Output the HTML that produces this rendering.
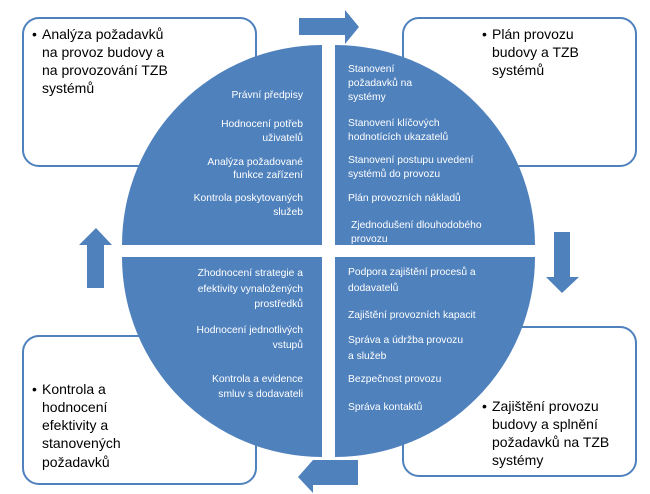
<!DOCTYPE html>
<html><head><meta charset="utf-8"><style>
html,body{margin:0;padding:0;background:#fff;}
svg{display:block;}
.q{font-family:"Liberation Sans",sans-serif;font-size:10.3px;fill:#fff;}
.b{font-family:"Liberation Sans",sans-serif;font-size:14px;fill:#000;}
</style></head><body>
<svg width="650" height="494" viewBox="0 0 650 494">
<g fill="#fff" stroke="#4f81bd" stroke-width="2">
<rect x="23" y="18" width="233" height="148" rx="16"/>
<rect x="403" y="18" width="233" height="148" rx="16"/>
<rect x="23" y="336" width="233" height="148" rx="16"/>
<rect x="403" y="327" width="233" height="149" rx="16"/>
</g>
<g fill="#4f81bd">
<path d="M322,245 L122,245 A200,200 0 0 1 322,45 Z"/>
<path d="M335,245 L335,45 A200,200 0 0 1 535,245 Z"/>
<path d="M322,257 L122,257 A200,200 0 0 0 322,457 Z"/>
<path d="M335,257 L535,257 A200,200 0 0 1 335,457 Z"/>
<polygon points="299,18 345,18 345,10 359,27 345,44 345,35 299,35"/>
<polygon points="554,232 570,232 570,277 579,277 562,293 546,277 554,277"/>
<polygon points="87,288 104,288 104,245 112,245 96,228 79,245 87,245"/>
<polygon points="358,460 313,460 313,460 298,477 313,493 313,485 358,485"/>
</g>
<g class="q" text-anchor="end">
<text x="303" y="98">Právní předpisy</text>
<text x="303" y="127">Hodnocení potřeb</text>
<text x="303" y="141">uživatelů</text>
<text x="303" y="165">Analýza požadované</text>
<text x="303" y="178">funkce zařízení</text>
<text x="303" y="201">Kontrola poskytovaných</text>
<text x="303" y="215">služeb</text>
<text x="303" y="276">Zhodnocení strategie a</text>
<text x="303" y="292">efektivity vynaložených</text>
<text x="303" y="307">prostředků</text>
<text x="303" y="333">Hodnocení jednotlivých</text>
<text x="303" y="348">vstupů</text>
<text x="303" y="382">Kontrola a evidence</text>
<text x="303" y="397">smluv s dodavateli</text>
</g>
<g class="q">
<text x="348" y="72">Stanovení</text>
<text x="348" y="86">požadavků na</text>
<text x="348" y="100">systémy</text>
<text x="348" y="126">Stanovení klíčových</text>
<text x="348" y="140">hodnotících ukazatelů</text>
<text x="348" y="163">Stanovení postupu uvedení</text>
<text x="348" y="177">systémů do provozu</text>
<text x="348" y="201">Plán provozních nákladů</text>
<text x="351" y="228">Zjednodušení dlouhodobého</text>
<text x="351" y="242">provozu</text>
<text x="348" y="275">Podpora zajištění procesů a</text>
<text x="348" y="291">dodavatelů</text>
<text x="348" y="318">Zajištění provozních kapacit</text>
<text x="348" y="343">Správa a údržba provozu</text>
<text x="348" y="359">a služeb</text>
<text x="348" y="382">Bezpečnost provozu</text>
<text x="348" y="410">Správa kontaktů</text>
</g>
<g class="b">
<text x="32" y="39">•</text>
<text x="42" y="39">Analýza požadavků</text>
<text x="42" y="57">na provoz budovy a</text>
<text x="42" y="75">na provozování TZB</text>
<text x="42" y="93">systémů</text>
<text x="482" y="39">•</text>
<text x="492" y="39">Plán provozu</text>
<text x="492" y="57">budovy a TZB</text>
<text x="492" y="75">systémů</text>
<text x="32" y="394">•</text>
<text x="42" y="394">Kontrola a</text>
<text x="42" y="412">hodnocení</text>
<text x="42" y="430">efektivity a</text>
<text x="42" y="448">stanovených</text>
<text x="42" y="467">požadavků</text>
<text x="482" y="411">•</text>
<text x="492" y="411">Zajištění provozu</text>
<text x="492" y="429">budovy a splnění</text>
<text x="492" y="447">požadavků na TZB</text>
<text x="492" y="465">systémy</text>
</g>
</svg>
</body></html>
